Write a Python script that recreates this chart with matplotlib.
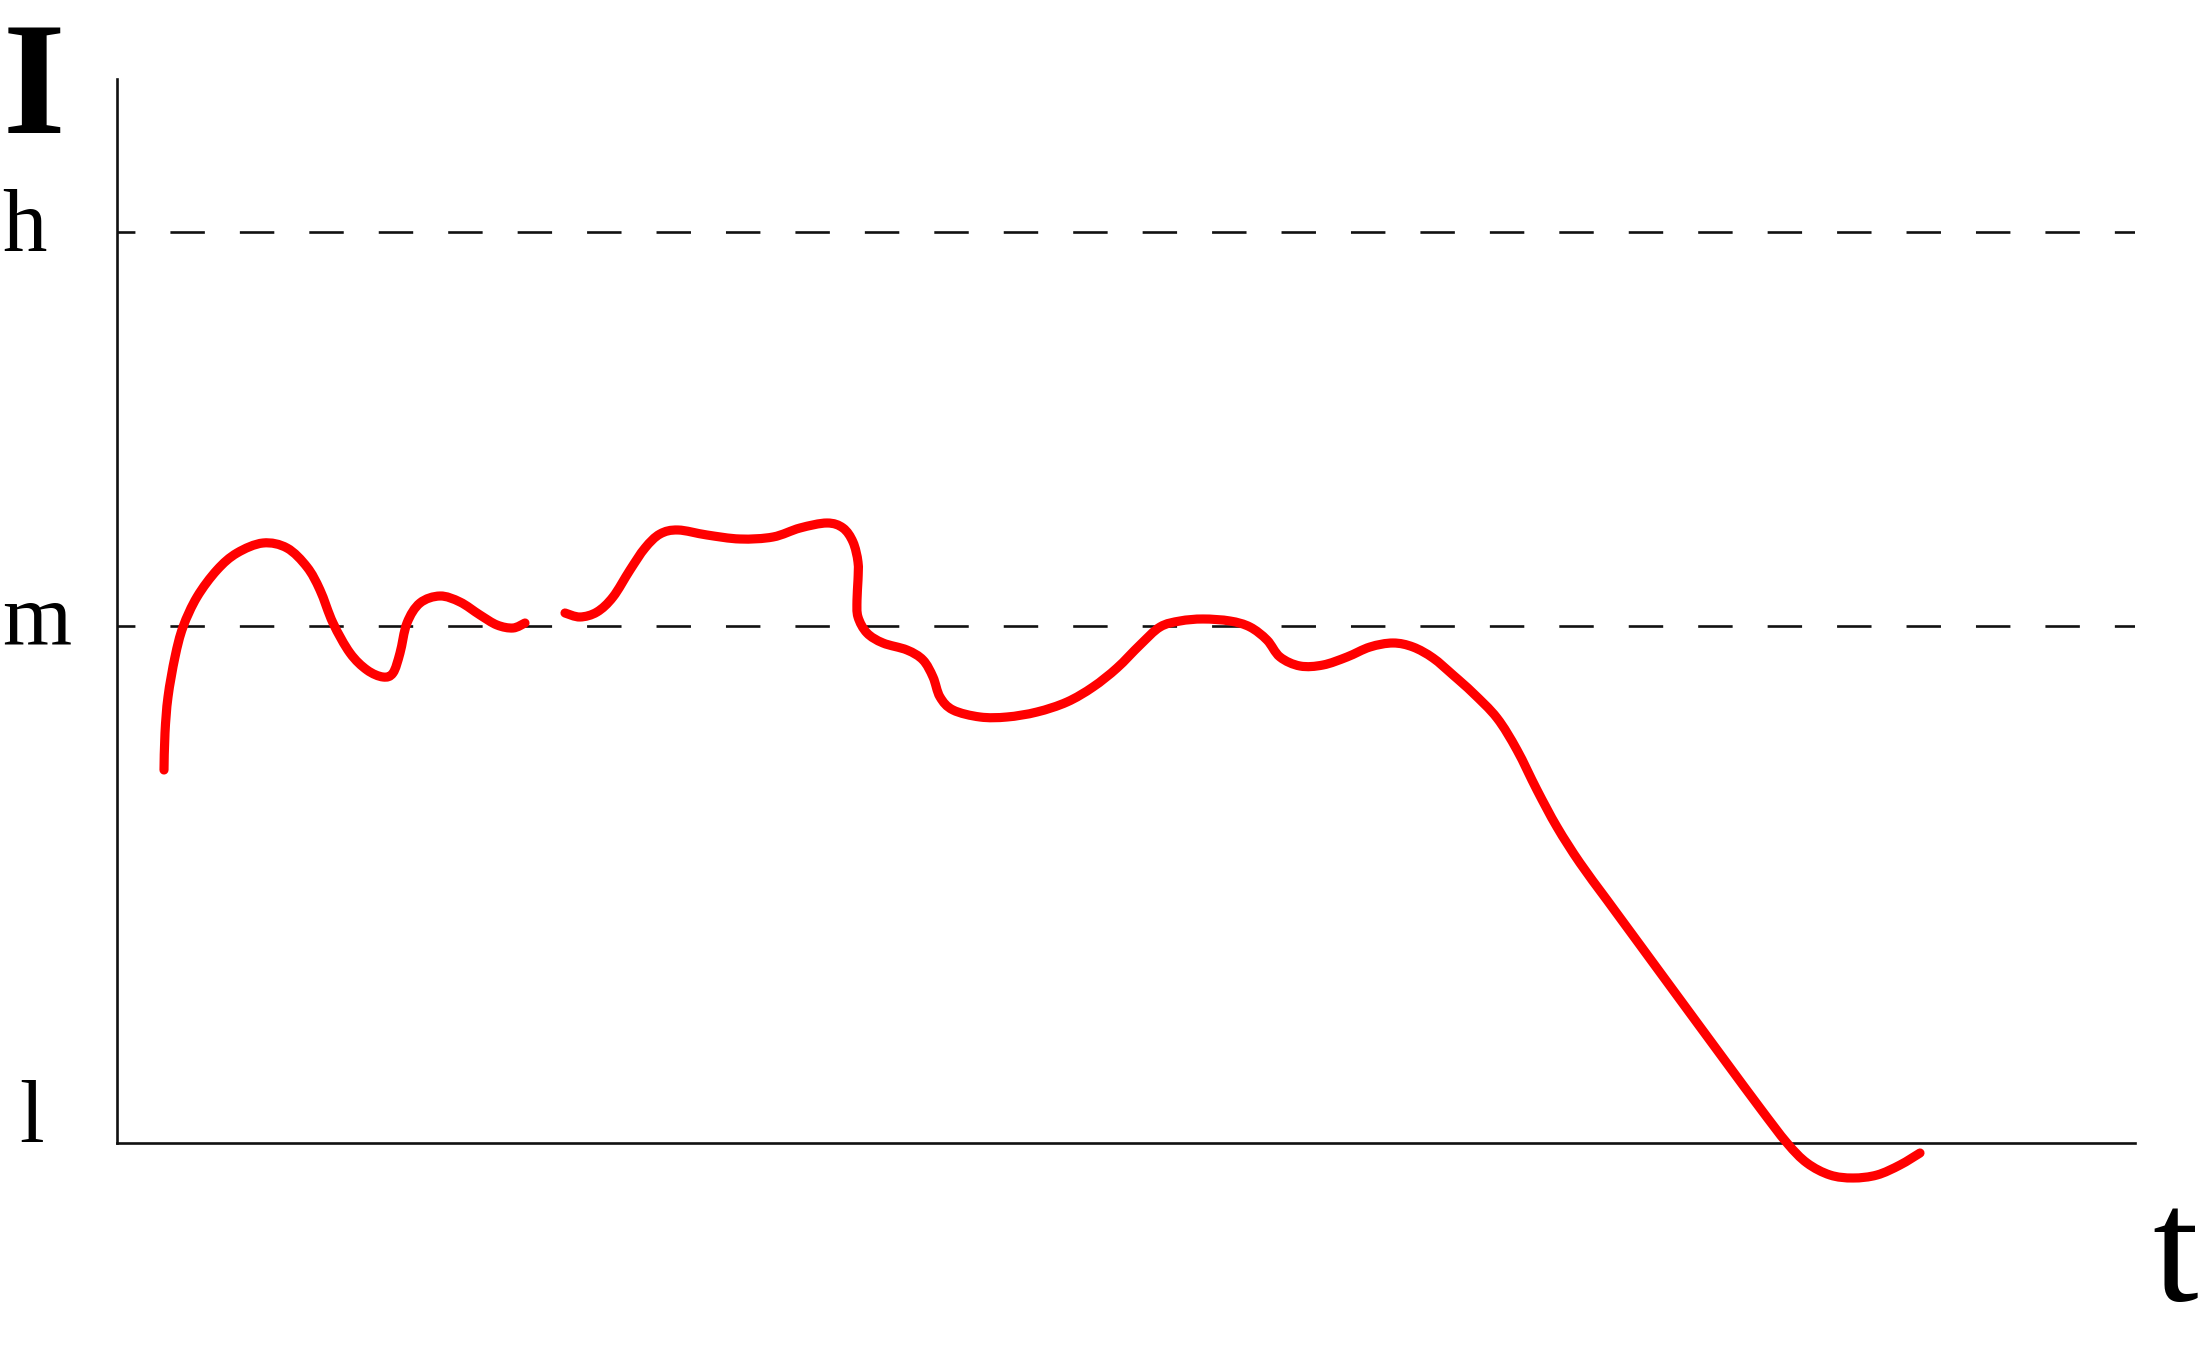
import matplotlib
matplotlib.use("Agg")
import matplotlib.pyplot as plt
import numpy as np
from matplotlib.path import Path
from matplotlib.patches import PathPatch

# signal level I over time t (first piece, then a short break, then the rest)
t1 = [0.47, 0.48, 0.51, 0.58, 0.66, 0.80, 1.00, 1.20, 1.46, 1.70, 1.90, 2.03, 2.16,
      2.33, 2.50, 2.66, 2.76, 2.83, 2.90, 3.03, 3.23, 3.43, 3.63, 3.80, 3.96, 4.08]
i1 = [3.73, 4.10, 4.46, 4.86, 5.16, 5.46, 5.73, 5.90, 6.00, 5.95, 5.76, 5.53, 5.20,
      4.90, 4.73, 4.66, 4.70, 4.90, 5.20, 5.40, 5.47, 5.41, 5.28, 5.18, 5.15, 5.20]

t2 = [4.48, 4.63, 4.80, 4.96, 5.13, 5.28, 5.43, 5.61, 5.90, 6.23, 6.56, 6.83, 7.10,
      7.26, 7.36, 7.41, 7.41, 7.40, 7.41, 7.50, 7.66, 7.90, 8.06, 8.16, 8.23, 8.36,
      8.63, 8.90, 9.20, 9.50, 9.76, 10.00, 10.23, 10.43, 10.63,
      10.86, 11.13, 11.33, 11.50, 11.63, 11.83, 12.06, 12.30, 12.53, 12.76, 12.96, 13.16,
      13.36, 13.56, 13.80, 14.00, 14.20, 14.40, 14.63, 14.90, 15.23, 15.56, 16.06, 16.43,
      16.70, 16.90, 17.13, 17.36, 17.60, 17.83, 18.03]
i2 = [5.30, 5.26, 5.31, 5.46, 5.73, 5.95, 6.09, 6.13, 6.08, 6.04, 6.06, 6.15, 6.20,
      6.15, 6.01, 5.81, 5.63, 5.43, 5.26, 5.10, 5.00, 4.93, 4.83, 4.66, 4.46, 4.33,
      4.26, 4.26, 4.31, 4.41, 4.56, 4.75, 4.98, 5.16, 5.22,
      5.24, 5.22, 5.16, 5.03, 4.86, 4.77, 4.78, 4.86, 4.96, 5.00, 4.96, 4.85,
      4.68, 4.50, 4.25, 3.93, 3.53, 3.16, 2.80, 2.43, 1.98, 1.53, 0.85, 0.35,
      0.00, -0.20, -0.32, -0.35, -0.32, -0.22, -0.10]

level_names = ["l", "m", "h"]
level_values = [0.0, 5.17, 9.11]


def smooth_path(xs, ys):
    # catmull-rom through the read points, drawn as cubic bezier pieces
    p = np.column_stack([xs, ys])
    p = np.vstack([p[0], p, p[-1]])
    verts = [p[1]]
    codes = [Path.MOVETO]
    for k in range(1, len(p) - 2):
        c1 = p[k] + (p[k + 1] - p[k - 1]) / 6
        c2 = p[k + 1] - (p[k + 2] - p[k]) / 6
        verts += [c1, c2, p[k + 1]]
        codes += [Path.CURVE4] * 3
    return Path(verts, codes)


W, H = 2210, 1362
plt.rcParams["lines.scale_dashes"] = False
fig = plt.figure(figsize=(W / 100, H / 100), dpi=100)
ax = fig.add_axes([117 / W, (H - 1143) / H, (2135 - 117) / W, (1143 - 79) / H])
ax.set_xlim(0, 20.18)
ax.set_ylim(0, 10.64)

for s in ["top", "right"]:
    ax.spines[s].set_visible(False)
for s in ["left", "bottom"]:
    ax.spines[s].set_linewidth(1.9)
    ax.spines[s].set_color("#111111")
ax.set_xticks([])
ax.set_yticks([])

# dashed reference levels m and h
for v in level_values[1:]:
    ax.axhline(v, color="#111111", lw=1.9, linestyle=(11.9, (24.8, 25.2)))

for xs, ys in [(t1, i1), (t2, i2)]:
    ax.add_patch(PathPatch(smooth_path(xs, ys), fill=False, edgecolor="#ff0000",
                           lw=6.6, capstyle="round", joinstyle="round",
                           clip_on=False, zorder=3))

serif = "Liberation Serif"
# level labels, left of the axis
label_pos = {"l": (19, 1142), "m": (2, 645), "h": (2, 251)}
for name in level_names:
    x, y = label_pos[name]
    fig.text(x / W, 1 - y / H, name, family=serif, fontsize=64,
             ha="left", va="baseline")

fig.text(3 / W, 1 - 133 / H, "I", family=serif, fontsize=116, fontweight="bold",
         ha="left", va="baseline")
fig.text(2152 / W, 1 - 1300 / H, "t", family=serif, fontsize=118, ha="left", va="baseline")

fig.savefig("out.png", dpi=100)
